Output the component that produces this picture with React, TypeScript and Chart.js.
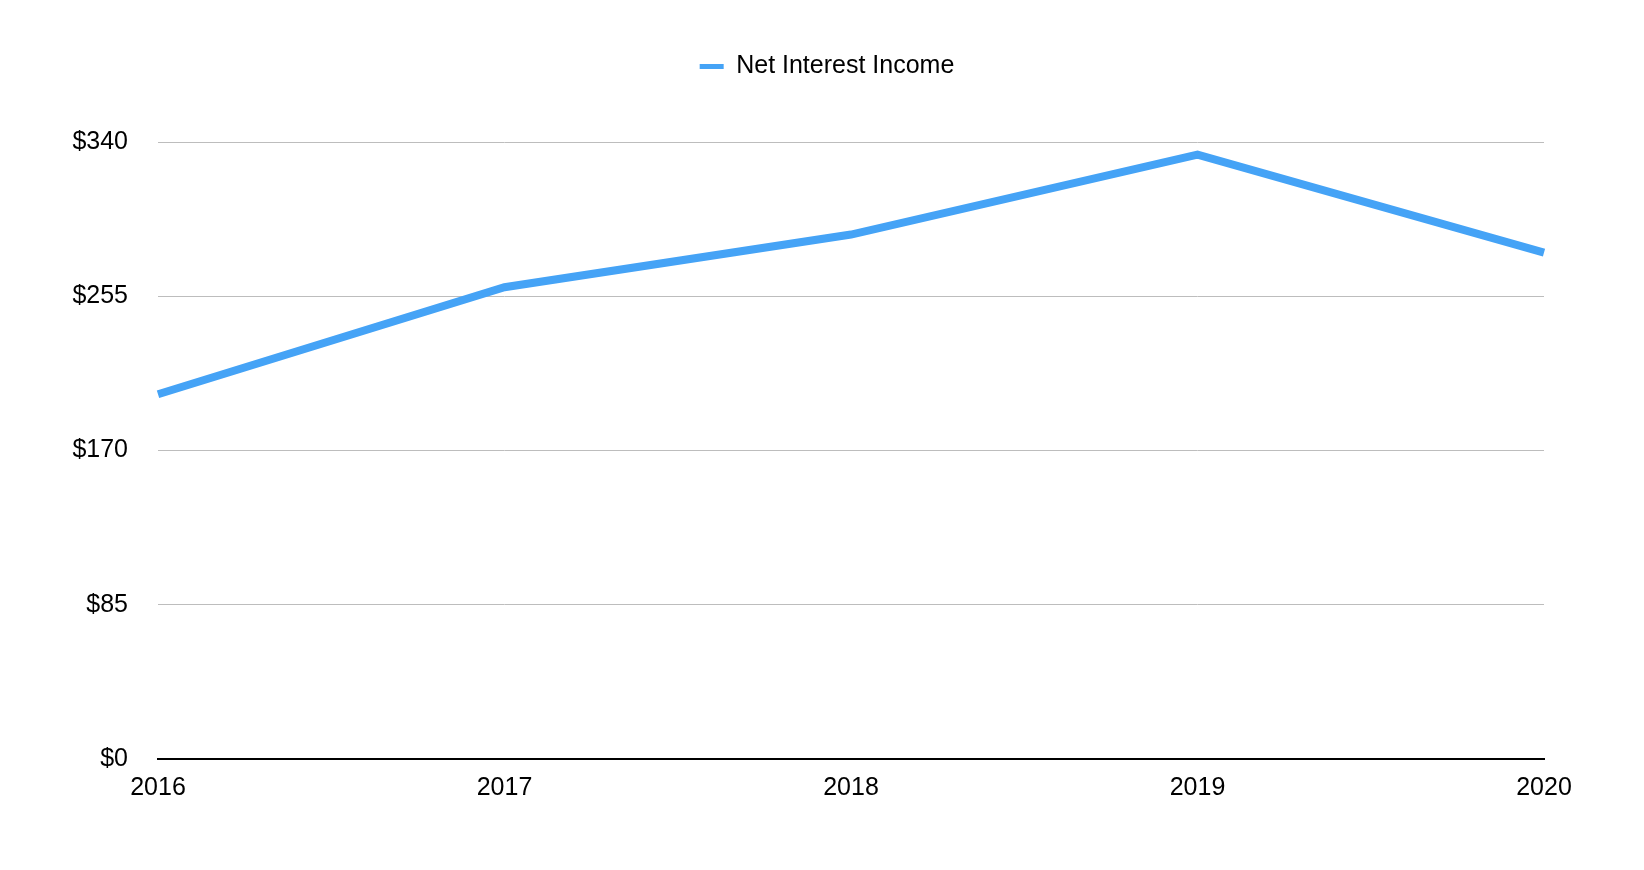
import React, { useEffect, useRef } from "react";
import { Chart, registerables } from "chart.js";

Chart.register(...registerables);

const years = ["2016", "2017", "2018", "2019", "2020"];
const netInterestIncome = [201, 260, 289, 333, 279];
const yTicks = [0, 85, 170, 255, 340];
const seriesLabel = "Net Interest Income";

const BLUE = "#45a3f6";
const FONT = "'Liberation Sans', Arial, Helvetica, sans-serif";

const legendMargin = {
  id: "legendMargin",
  beforeInit(chart: any) {
    const legend = chart.legend;
    if (!legend) return;
    const orig = legend.fit;
    legend.fit = function () {
      orig.call(this);
      this.height += 53;
    };
  },
};

export default function App() {
  const ref = useRef<HTMLCanvasElement | null>(null);

  useEffect(() => {
    const canvas = ref.current;
    if (!canvas) return;
    const chart = new Chart(canvas, {
      type: "line",
      data: {
        labels: years,
        datasets: [
          {
            label: seriesLabel,
            data: netInterestIncome,
            borderColor: BLUE,
            backgroundColor: BLUE,
            borderWidth: 8,
            pointRadius: 0,
            tension: 0,
            borderJoinStyle: "miter",
            borderCapStyle: "butt",
          },
        ],
      },
      options: {
        animation: false,
        responsive: false,
        maintainAspectRatio: false,
        layout: { padding: { top: 39, right: 0, bottom: 0, left: 10 } },
        plugins: {
          tooltip: { enabled: false },
          legend: {
            display: true,
            position: "top",
            labels: {
              boxWidth: 24,
              boxHeight: 5,
              padding: 15,
              color: "#000",
              font: { family: FONT, size: 25 },
              generateLabels: (c: any) => {
                const items = Chart.defaults.plugins.legend.labels.generateLabels(c);
                return items.map((it: any) => ({ ...it, lineWidth: 0, strokeStyle: BLUE, fillStyle: BLUE }));
              },
            },
          },
        },
        scales: {
          x: {
            offset: false,
            grid: { display: false, drawTicks: false },
            border: { display: true, color: "#000", width: 2 },
            ticks: {
              color: "#000",
              font: { family: FONT, size: 25 },
              padding: 14,
              maxRotation: 0,
              autoSkip: false,
            },
            afterFit: (scale: any) => {
              scale.height = 111;
            },
          },
          y: {
            min: 0,
            max: 340,
            afterBuildTicks: (scale: any) => {
              scale.ticks = yTicks.map((v) => ({ value: v }));
            },
            grid: { color: "#bdbdbd", lineWidth: 1, drawTicks: false },
            border: { display: false },
            ticks: {
              color: "#000",
              font: { family: FONT, size: 25 },
              padding: 30,
              callback: (v: any) => "$" + v,
            },
            afterFit: (scale: any) => {
              scale.width = 148;
            },
          },
          yRight: {
            position: "right",
            display: true,
            min: 0,
            max: 340,
            grid: { display: false, drawTicks: false },
            border: { display: false },
            ticks: { display: false },
            afterFit: (scale: any) => {
              scale.width = 100;
            },
          },
        },
      },
      plugins: [legendMargin],
    } as any);
    return () => chart.destroy();
  }, []);

  return (
    <div style={{ position: "fixed", left: 0, top: 0, width: 1644, height: 870, background: "#fff" }}>
      <canvas ref={ref} width={1644} height={870} style={{ display: "block", width: 1644, height: 870 }} />
    </div>
  );
}
